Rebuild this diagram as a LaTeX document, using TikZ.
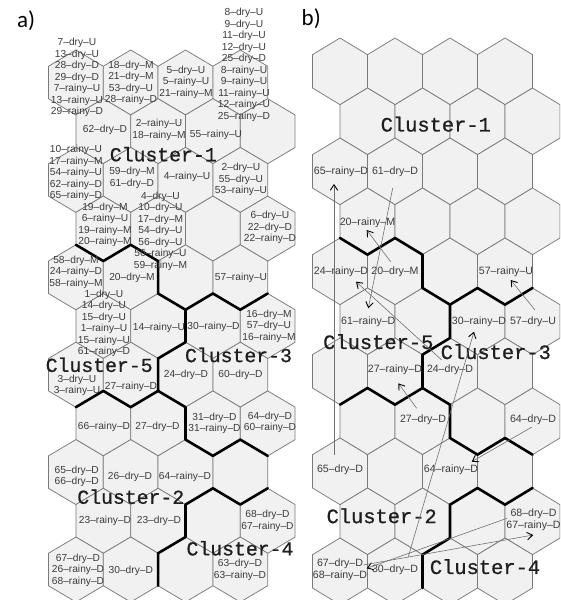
\documentclass[tikz,border=0pt]{standalone}
\usepackage{fontspec}
\setmainfont{Liberation Sans}
\newfontfamily\labfont{Liberation Sans}
\newfontfamily\clfont[FakeBold=0.8]{Liberation Mono}
\newfontfamily\panfont{Carlito}
\usetikzlibrary{arrows.meta}
\definecolor{hexfill}{HTML}{F1F1F1}
\definecolor{hexline}{HTML}{7A7A7A}
\definecolor{labtext}{HTML}{3C3C3C}
\definecolor{cltext}{HTML}{1E1E1E}
\definecolor{arrline}{HTML}{707070}
\tikzset{
  hexcell/.style={fill=hexfill, draw=hexline, line width=0.75pt},
  clb/.style={draw=black, line width=2.6pt, line join=round, line cap=round},
  laba/.style={inner sep=0pt, align=center, text=labtext, font=\labfont\fontsize{10.2}{11.5}\selectfont},
  labb/.style={inner sep=0pt, align=center, text=labtext, font=\labfont\fontsize{10.6}{12.4}\selectfont},
  clua/.style={inner sep=0pt, text=cltext, font=\clfont\fontsize{19.8}{20}\selectfont},
  club/.style={inner sep=0pt, text=cltext, font=\clfont\fontsize{20.4}{21}\selectfont},
  panlab/.style={inner sep=0pt, anchor=base west, font=\panfont\fontsize{23}{23}\selectfont},
  arr/.style={draw=arrline, line width=0.6pt, -{Straight Barb[length=5.5pt,width=7.5pt,line width=0.9pt,color=black]}},
}
% #1 x0, #2 top0, #3 W, #4 H, #5 s
\newcommand\drawhexgrid[5]{%
  \foreach \r in {1,...,11}{%
    \foreach \c in {1,...,4}{%
      \pgfmathsetmacro\hcx{#1+#3/2+#3*(\c-1)+mod(\r+1,2)*#3/2}%
      \pgfmathsetmacro\hcy{#2+#5+#4*(\r-1)}%
      \pgfmathsetmacro\hha{#3/2}%
      \pgfmathsetmacro\hhs{#5/2}%
      \draw[hexcell] (\hcx,\hcy-#5) -- ++(\hha,\hhs) -- ++(0,#5) -- ++(-\hha,\hhs) -- ++(-\hha,-\hhs) -- ++(0,-#5) -- cycle;
    }%
  }%
}
\begin{document}
\begin{tikzpicture}[x=1pt,y=-1pt]
\useasboundingbox (0,0) rectangle (560,600);
% vertex coordinates of both grids
\foreach \k in {0,...,9}{\foreach \r in {1,...,12}{\foreach \u in {0,1}{%
  \coordinate (A\k-\r-\u) at ({48.5+27.4*\k},{50+48.7*(\r-1)+16.25*\u});
  \coordinate (B\k-\r-\u) at ({312.5+27.5*\k},{38+50*(\r-1)+16.67*\u});
}}}
\begin{scope}
\clip (0,0) rectangle (560,600);
\drawhexgrid{48.5}{50}{54.8}{48.7}{32.5}
\drawhexgrid{312.5}{38}{55}{50}{33.33}
% cluster borders, panel a
\draw[clb] (A1-5-0) -- (A2-5-1) -- (A3-5-0) -- (A4-5-1) -- (A4-6-0) -- (A5-6-1) -- (A6-6-0) -- (A7-6-1) -- (A8-6-0);
\draw[clb] (A5-6-1) -- (A5-7-0) -- (A4-7-1) -- (A4-8-0) -- (A3-8-1) -- (A2-8-0) -- (A1-8-1);
\draw[clb] (A4-8-0) -- (A5-8-1) -- (A5-9-0) -- (A6-9-1) -- (A7-9-0) -- (A8-9-1);
\draw[clb] (A8-10-0) -- (A7-10-1) -- (A6-10-0) -- (A5-10-1) -- (A5-11-0) -- (A4-11-1) -- (A4-12-0);
% cluster borders, panel b
\draw[clb] (B1-5-0) -- (B2-5-1) -- (B3-5-0) -- (B4-5-1) -- (B4-6-0) -- (B5-6-1) -- (B6-6-0) -- (B7-6-1) -- (B8-6-0);
\draw[clb] (B5-6-1) -- (B5-7-0) -- (B4-7-1) -- (B4-8-0) -- (B3-8-1) -- (B2-8-0) -- (B1-8-1);
\draw[clb] (B4-8-0) -- (B5-8-1) -- (B5-9-0) -- (B6-9-1) -- (B7-9-0) -- (B8-9-1);
\draw[clb] (B8-10-0) -- (B7-10-1) -- (B6-10-0) -- (B5-10-1) -- (B5-11-0) -- (B4-11-1) -- (B4-12-0);

% panel a labels
\node[laba] (a11) at (77,77.5) {7–dry–U\\13–dry–U\\28–dry–D\\29–dry–D\\7–rainy–U\\13–rainy–U\\29–rainy–D};
\node[laba] (a12) at (131,83) {18–dry–M\\21–dry–M\\53–dry–U\\28–rainy–D};
\node[laba] (a13) at (186,82) {5–dry–U\\5–rainy–U\\21–rainy–M};
\node[laba] (a14) at (244,64.7) {8–dry–U\\9–dry–U\\11–dry–U\\12–dry–U\\25–dry–D\\8–rainy–U\\9–rainy–U\\11–rainy–U\\12–rainy–U\\25–rainy–D};
\node[laba] (a21) at (105,130) {62–dry–D};
\node[laba] (a22) at (159,130) {2–rainy–U\\18–rainy–M};
\node[laba] (a23) at (216,135) {55–rainy–U};
\node[laba] (a31) at (76,173) {10–rainy–U\\17–rainy–M\\54–rainy–U\\62–rainy–D\\65–rainy–D};
\node[laba] (a32) at (132,177.8) {59–dry–M\\61–dry–D};
\node[laba] (a33) at (187,176.7) {4–rainy–U};
\node[laba] (a34) at (241,179.5) {2–dry–U\\55–dry–U\\53–rainy–U};
\node[laba] (a41) at (105,224.7) {19–dry–M\\6–rainy–U\\19–rainy–M\\20–rainy–M};
\node[laba] (a42) at (160.5,231.2) {4–dry–U\\10–dry–U\\17–dry–M\\54–dry–U\\56–dry–U\\56–rainy–U\\59–rainy–M};
\node[laba] (a44) at (270,227.5) {6–dry–U\\22–dry–D\\22–rainy–D};
\node[laba] (a51) at (76,272) {58–dry–M\\24–rainy–D\\58–rainy–M};
\node[laba] (a52) at (132,278.3) {20–dry–M};
\node[laba] (a54) at (241,278.3) {57–rainy–U};
\node[laba] (a61) at (104,323.3) {1–dry–U\\14–dry–U\\15–dry–U\\1–rainy–U\\15–rainy–U\\61–rainy–D};
\node[laba] (a62) at (159,328.3) {14–rainy–U};
\node[laba] (a63) at (213.5,326.7) {30–rainy–D};
\node[laba] (a64) at (269,326.3) {16–dry–M\\57–dry–U\\16–rainy–M};
\node[laba] (a71) at (77,385.2) {3–dry–U\\3–rainy–U};
\node[laba] (a72) at (131,387.3) {27–rainy–D};
\node[laba] (a73) at (186,375) {24–dry–D};
\node[laba] (a74) at (240.5,375) {60–dry–D};
\node[laba] (a81) at (104,426.7) {66–rainy–D};
\node[laba] (a82) at (157.5,426.7) {27–dry–D};
\node[laba] (a83) at (214.5,423.2) {31–dry–D\\31–rainy–D};
\node[laba] (a84) at (270,422.2) {64–dry–D\\60–rainy–D};
\node[laba] (a91) at (76.7,476.5) {65–dry–D\\66–dry–D};
\node[laba] (a92) at (130,476.7) {26–dry–D};
\node[laba] (a93) at (185,476.7) {64–rainy–D};
\node[laba] (a101) at (105,520.7) {23–rainy–D};
\node[laba] (a102) at (159,520.7) {23–dry–D};
\node[laba] (a104) at (267.5,520.8) {68–dry–D\\67–rainy–D};
\node[laba] (a111) at (78,570) {67–dry–D\\26–rainy–D\\68–rainy–D};
\node[laba] (a112) at (130.8,570.7) {30–dry–D};
\node[laba] (a114) at (240,569.8) {63–dry–D\\63–rainy–D};

% panel b labels
\node[labb] (b31) at (341,172) {65–rainy–D};
\node[labb] (b32) at (395,172) {61–dry–D};
\node[labb] (b41) at (367.5,222.5) {20–rainy–M};
\node[labb] (b51) at (341,271.7) {24–rainy–D};
\node[labb] (b52) at (395,271.7) {20–dry–M};
\node[labb] (b54) at (506,271.7) {57–rainy–U};
\node[labb] (b61) at (368.3,321.7) {61–rainy–D};
\node[labb] (b63) at (479,321.7) {30–rainy–D};
\node[labb] (b64) at (533,321.7) {57–dry–U};
\node[labb] (b72) at (395,370) {27–rainy–D};
\node[labb] (b73) at (450,370) {24–dry–D};
\node[labb] (b82) at (423,420) {27–dry–D};
\node[labb] (b84) at (533,420) {64–dry–D};
\node[labb] (b91) at (340,470) {65–dry–D};
\node[labb] (b93) at (451,470) {64–rainy–D};
\node[labb] (b104) at (533.5,519.5) {68–dry–D\\67–rainy–D};
\node[labb] (b111) at (340,569.5) {67–dry–D\\68–rainy–D};
\node[labb] (b112) at (395,570) {30–dry–D};

% cluster names
\node[clua] (ca1) at (163.3,154.2) {Cluster-1};
\node[clua] (ca5) at (99.2,364.8) {Cluster-5};
\node[clua] (ca3) at (238.5,355) {Cluster-3};
\node[clua] (ca2) at (130.8,496.7) {Cluster-2};
\node[clua] (ca4) at (240,548.3) {Cluster-4};
\node[club] (cb1) at (435.8,124.2) {Cluster-1};
\node[club] (cb5) at (378.3,341.7) {Cluster-5};
\node[club] (cb3) at (495.8,351.7) {Cluster-3};
\node[club] (cb2) at (381.7,515.8) {Cluster-2};
\node[club] (cb4) at (485,566.7) {Cluster-4};

% arrows, panel b
\coordinate (d65) at (334,455);   \coordinate (r65) at (334,184);
\coordinate (d61) at (392.7,188); \coordinate (r61) at (368.3,308.3);
\coordinate (d20) at (390.7,261.7); \coordinate (r20) at (366.7,230);
\coordinate (d24) at (441.7,360); \coordinate (r24) at (356,281.7);
\coordinate (d57) at (535,310);   \coordinate (r57) at (510.7,280);
\coordinate (d27) at (416.7,408.3); \coordinate (r27) at (398.3,383.3);
\coordinate (d30) at (408.3,556.7); \coordinate (r30) at (474,331.7);
\coordinate (d64) at (532,427);   \coordinate (r64) at (471.7,461.7);
\coordinate (d68) at (507,518.3); \coordinate (r68) at (366.7,568.3);
\coordinate (d67) at (363.3,565); \coordinate (r67) at (533.3,535);
\foreach \i in {65,61,20,24,57,27,30,64,68,67}{\draw[arr] (d\i) -- (r\i);}
\end{scope}

\node[panlab] (pa) at (17,27) {a)};
\node[panlab] (pb) at (301.5,25) {b)};
\end{tikzpicture}
\end{document}
